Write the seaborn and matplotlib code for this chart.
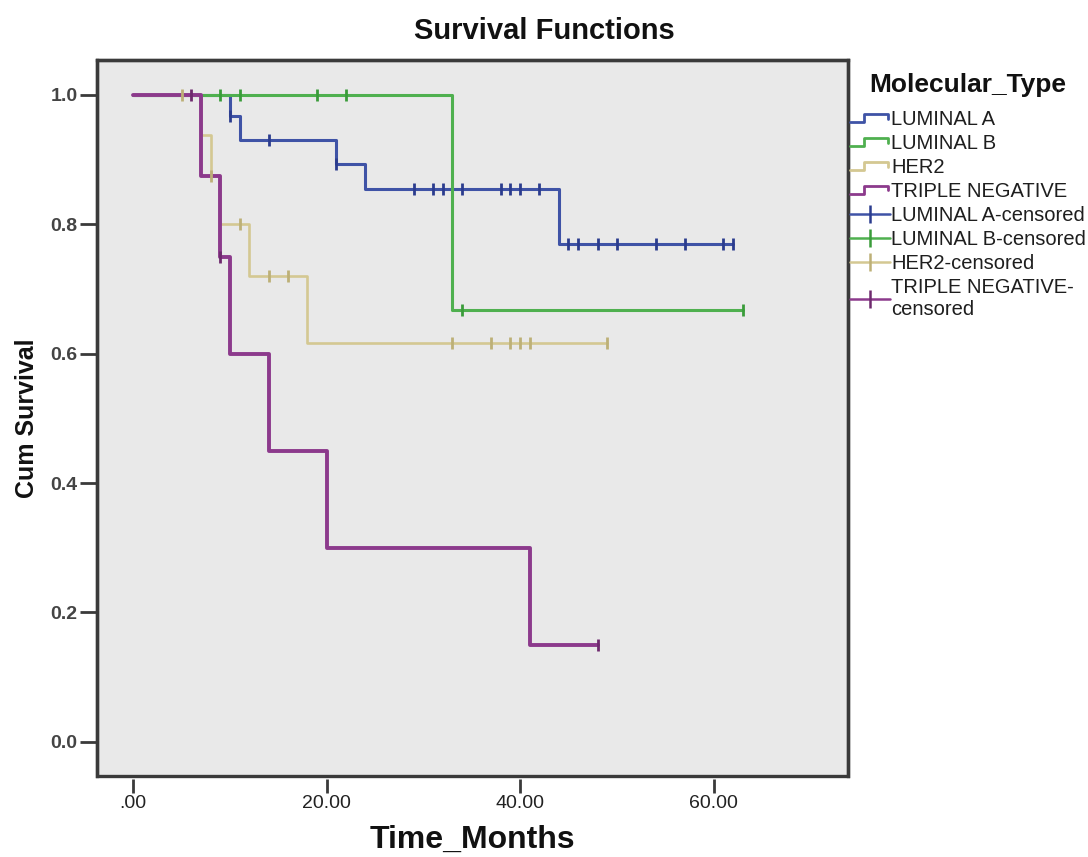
import numpy as np
import pandas as pd
import matplotlib
matplotlib.use("Agg")
import matplotlib.pyplot as plt
import seaborn as sns
from matplotlib.lines import Line2D
from matplotlib.legend_handler import HandlerBase

# Kaplan-Meier curves (step times, survival after the step)
groups = ["LUMINAL A", "LUMINAL B", "HER2", "TRIPLE NEGATIVE"]

luminal_a_times = [0, 10, 11, 21, 24, 44, 62]
luminal_a_surv = [1.0, 0.967, 0.930, 0.893, 0.855, 0.769, 0.769]
luminal_a_censored = [10, 14, 21, 29, 31, 32, 34, 38, 39, 40, 42, 45, 46, 48, 50, 54, 57, 61, 62]

luminal_b_times = [0, 33, 63]
luminal_b_surv = [1.0, 0.667, 0.667]
luminal_b_censored = [9, 11, 19, 22, 34, 63]

her2_times = [0, 7, 8, 9, 12, 18, 49]
her2_surv = [1.0, 0.9375, 0.875, 0.80, 0.72, 0.617, 0.617]
her2_censored = [5, 8, 11, 14, 16, 33, 37, 39, 40, 41, 49]

tn_times = [0, 7, 9, 10, 14, 20, 41, 48]
tn_surv = [1.0, 0.875, 0.75, 0.60, 0.45, 0.30, 0.15, 0.15]
tn_censored = [6, 9, 48]

x_ticks = [0, 20, 40, 60]
x_tick_labels = [".00", "20.00", "40.00", "60.00"]
y_ticks = [0.0, 0.2, 0.4, 0.6, 0.8, 1.0]
y_tick_labels = ["0.0", "0.2", "0.4", "0.6", "0.8", "1.0"]

curves = {
    "LUMINAL A": (luminal_a_times, luminal_a_surv, luminal_a_censored),
    "LUMINAL B": (luminal_b_times, luminal_b_surv, luminal_b_censored),
    "HER2": (her2_times, her2_surv, her2_censored),
    "TRIPLE NEGATIVE": (tn_times, tn_surv, tn_censored),
}
line_colors = {"LUMINAL A": "#3f53a6", "LUMINAL B": "#4fb04f",
               "HER2": "#d4c892", "TRIPLE NEGATIVE": "#8c3a8c"}
mark_colors = {"LUMINAL A": "#2b3c8e", "LUMINAL B": "#3a9c3a",
               "HER2": "#bdb077", "TRIPLE NEGATIVE": "#6e2a6e"}
line_widths = {"LUMINAL A": 2.2, "LUMINAL B": 2.2, "HER2": 1.9, "TRIPLE NEGATIVE": 2.8}

sns.set_theme(style="white")
plt.rcParams["font.family"] = ["Liberation Sans", "DejaVu Sans"]

fig = plt.figure(figsize=(10.88, 8.57), dpi=100)
ax = fig.add_axes([97 / 1088, 81 / 857, 751 / 1088, 716 / 857])
ax.set_facecolor("#e9e9e9")


def surv_at(times, surv, t):
    idx = np.searchsorted(times, t, side="right") - 1
    return surv[idx]


for g in groups:
    times, surv, cens = curves[g]
    frame = pd.DataFrame({"time": times, "surv": surv})
    sns.lineplot(data=frame, x="time", y="surv", color=line_colors[g],
                 lw=line_widths[g], drawstyle="steps-post", estimator=None,
                 sort=False, ax=ax, zorder=2)
for g in groups:
    times, surv, cens = curves[g]
    cframe = pd.DataFrame({"time": cens,
                           "surv": [surv_at(times, surv, t) for t in cens]})
    sns.scatterplot(data=cframe, x="time", y="surv", marker="|", s=75,
                    color=mark_colors[g], linewidth=2.0, ax=ax, zorder=3)

ax.set_xlim(-3.75, 73.9)
ax.set_ylim(-0.053, 1.054)
ax.set_xticks(x_ticks)
ax.set_xticklabels(x_tick_labels)
ax.set_yticks(y_ticks)
ax.set_yticklabels(y_tick_labels)

frame_color = "#3a3a3a"
for side in ["top", "left", "right"]:
    ax.spines[side].set_color(frame_color)
    ax.spines[side].set_linewidth(2.4)
ax.spines["bottom"].set_position(("outward", 2.5))
ax.spines["bottom"].set_color("none")
ax.patch.set_edgecolor(frame_color)
ax.patch.set_linewidth(2.4)

ax.tick_params(axis="x", direction="out", length=10, width=2, color=frame_color,
               labelsize=14, labelcolor="#222222", pad=1, bottom=True)
ax.tick_params(axis="y", direction="out", length=12, width=2, color=frame_color,
               labelsize=14, labelcolor="#444444", pad=2, left=True)
for lab in ax.get_yticklabels():
    lab.set_fontweight("bold")

ax.set_xlabel("Time_Months", fontsize=23, fontweight="bold", color="#111111")
ax.xaxis.set_label_coords(0.5, -0.068)
ax.set_ylabel("Cum Survival", fontsize=18, fontweight="bold", color="#111111")
ax.yaxis.set_label_coords(-0.077, 0.5)

fig.suptitle("Survival Functions", x=0.5, y=0.98, fontsize=21, fontweight="bold",
             color="#111111")


class StepHandler(HandlerBase):
    def create_artists(self, legend, orig_handle, xdescent, ydescent, width,
                       height, fontsize, trans):
        xs = np.array([0.0, 0.35, 0.35, 0.95, 0.95]) * width - xdescent
        ys = np.array([0.2, 0.2, 0.75, 0.75, 0.45]) * height - ydescent
        line = Line2D(xs, ys, color=orig_handle.get_color(), lw=2)
        line.set_transform(trans)
        return [line]


step_handles = [Line2D([], [], color=line_colors[g]) for g in groups]
cens_handles = [Line2D([], [], color=line_colors[g], lw=1.8, marker="|",
                       markersize=13, markeredgewidth=1.8,
                       markeredgecolor=mark_colors[g]) for g in groups]
labels = groups + ["LUMINAL A-censored", "LUMINAL B-censored", "HER2-censored",
                   "TRIPLE NEGATIVE-\ncensored"]
handler_map = {h: StepHandler() for h in step_handles}
leg = ax.legend(step_handles + cens_handles, labels, handler_map=handler_map,
                loc="upper left", bbox_to_anchor=(1.0, 0.985), borderaxespad=0,
                frameon=False, fontsize=14.5, handlelength=2.0, handletextpad=0.05,
                labelspacing=0.245, borderpad=0.1, numpoints=1,
                title="Molecular_Type",
                title_fontproperties={"size": 19, "weight": "bold"})
# a bit more room between the legend title and the first entry
leg._legend_box.sep += 6
for t in leg.get_texts():
    t.set_color("#1e1e1e")
leg.get_title().set_color("#111111")

fig.savefig("out.png", dpi=100)
